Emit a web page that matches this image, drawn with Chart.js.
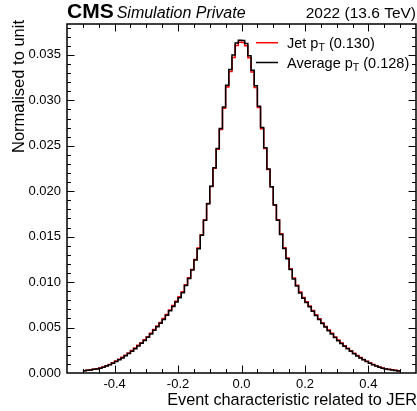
<!DOCTYPE html>
<html><head><meta charset="utf-8">
<script src="https://cdn.jsdelivr.net/npm/chart.js@4.4.1/dist/chart.umd.min.js"></script>
<style>html,body{margin:0;padding:0;background:#fff;overflow:hidden}#wrap{width:417px;height:411px;position:relative}</style>
</head><body><div id="wrap"><canvas id="c" width="417" height="411"></canvas></div>
<script>
// ---- data ----
const binLow = -0.5, binWidth = 0.01, nBins = 100;
const jetPt = [
0.00026,0.00031,0.00036,0.00042,0.00048,0.00056,0.00067,0.00081,0.00094,0.00112,
0.00131,0.00151,0.00172,0.00196,0.00220,0.00247,0.00275,0.00305,0.00334,0.00366,
0.00400,0.00438,0.00478,0.00517,0.00556,0.00600,0.00645,0.00693,0.00742,0.00790,
0.00838,0.00895,0.00970,0.01048,0.01140,0.01250,0.01374,0.01522,0.01684,0.01864,
0.02052,0.02252,0.02462,0.02678,0.02912,0.03146,0.03318,0.03472,0.03604,0.03640,
0.03636,0.03600,0.03468,0.03312,0.03142,0.02920,0.02688,0.02470,0.02240,0.02050,
0.01852,0.01686,0.01532,0.01378,0.01266,0.01148,0.01044,0.00966,0.00890,0.00832,
0.00784,0.00737,0.00689,0.00641,0.00597,0.00554,0.00513,0.00474,0.00436,0.00397,
0.00363,0.00331,0.00301,0.00272,0.00244,0.00218,0.00193,0.00170,0.00149,0.00130,
0.00112,0.00094,0.00079,0.00066,0.00056,0.00048,0.00041,0.00035,0.00030,0.00025];
const avgPt = [
0.00024,0.00029,0.00034,0.00040,0.00045,0.00053,0.00064,0.00077,0.00090,0.00108,
0.00127,0.00146,0.00166,0.00190,0.00214,0.00240,0.00268,0.00298,0.00326,0.00358,
0.00392,0.00430,0.00469,0.00508,0.00547,0.00590,0.00636,0.00684,0.00733,0.00780,
0.00828,0.00884,0.00962,0.01040,0.01133,0.01242,0.01368,0.01517,0.01680,0.01862,
0.02054,0.02258,0.02471,0.02690,0.02928,0.03165,0.03340,0.03498,0.03630,0.03662,
0.03658,0.03625,0.03492,0.03332,0.03160,0.02935,0.02700,0.02478,0.02245,0.02050,
0.01848,0.01680,0.01525,0.01370,0.01258,0.01140,0.01035,0.00958,0.00880,0.00822,
0.00775,0.00728,0.00680,0.00632,0.00588,0.00545,0.00505,0.00466,0.00428,0.00390,
0.00356,0.00324,0.00295,0.00266,0.00238,0.00212,0.00188,0.00165,0.00145,0.00126,
0.00108,0.00090,0.00076,0.00063,0.00053,0.00045,0.00039,0.00033,0.00028,0.00023];
const legendNames = ['Jet p', 'Average p'];
const legendSub = ['T', 'T'];
const legendRms = [' (0.130)', ' (0.128)'];
const xTickValues = [-0.4, -0.2, 0.0, 0.2, 0.4];
const xTickLabels = ['-0.4', '-0.2', '0.0', '0.2', '0.4'];
const yTickValues = [0, 0.005, 0.010, 0.015, 0.020, 0.025, 0.030, 0.035];
const yTickLabels = ['0.000', '0.005', '0.010', '0.015', '0.020', '0.025', '0.030', '0.035'];
const xTitle = 'Event characteristic related to JER';
const yTitle = 'Normalised to unit';

// ---- build ----
const edges = Array.from({length: nBins + 1}, (_, i) => +(binLow + i * binWidth).toFixed(4));
function toPoints(vals) {
  const pts = vals.map((v, i) => ({x: edges[i], y: v}));
  pts.push({x: edges[nBins], y: vals[nBins - 1]});
  return pts;
}
const FONT = '"Liberation Sans", Arial, sans-serif';

const decor = {
  id: 'decor',
  afterDraw(chart) {
    const {ctx, chartArea: a, scales: {x, y}} = chart;
    ctx.save();
    ctx.strokeStyle = '#000';
    ctx.lineWidth = 1;
    // inward ticks on all four sides
    for (let k = -10; k <= 10; k++) {
      const px = Math.round(x.getPixelForValue(k * 0.05)) + 0.5;
      const len = (k % 4 === 0) ? 7.5 : 4;
      ctx.beginPath();
      ctx.moveTo(px, a.bottom); ctx.lineTo(px, a.bottom - len);
      ctx.moveTo(px, a.top); ctx.lineTo(px, a.top + len);
      ctx.stroke();
    }
    for (let k = 1; k <= 38; k++) {
      const py = Math.round(y.getPixelForValue(k * 0.001)) + 0.5;
      const len = (k % 5 === 0) ? 7.5 : 4;
      ctx.beginPath();
      ctx.moveTo(a.left, py); ctx.lineTo(a.left + len, py);
      ctx.moveTo(a.right, py); ctx.lineTo(a.right - len, py);
      ctx.stroke();
    }
    // frame
    ctx.lineWidth = 1.5;
    ctx.strokeRect(a.left, a.top, a.right - a.left, a.bottom - a.top);

    // header
    ctx.fillStyle = '#000';
    ctx.textBaseline = 'alphabetic';
    ctx.textAlign = 'left';
    ctx.font = 'bold 21px ' + FONT;
    ctx.fillText('CMS', a.left, 18);
    const wc = ctx.measureText('CMS').width;
    ctx.font = 'italic 16px ' + FONT;
    ctx.fillText('Simulation Private', a.left + wc + 3, 18);
    ctx.textAlign = 'right';
    ctx.font = '15.5px ' + FONT;
    ctx.fillText('2022 (13.6 TeV)', a.right, 18);

    // axis titles
    ctx.font = '16.3px ' + FONT;
    ctx.textAlign = 'right';
    ctx.fillText(xTitle, a.right + 1, 404.5);
    ctx.font = '16.5px ' + FONT;
    ctx.save();
    ctx.translate(24, a.top - 4);
    ctx.rotate(-Math.PI / 2);
    ctx.textAlign = 'right';
    ctx.fillText(yTitle, 0, 0);
    ctx.restore();

    // legend
    const colors = ['#ff0000', '#000000'];
    const ys = [42.7, 62.5];
    for (let i = 0; i < 2; i++) {
      ctx.strokeStyle = colors[i];
      ctx.lineWidth = 1.5;
      ctx.beginPath();
      ctx.moveTo(256, ys[i]); ctx.lineTo(278, ys[i]);
      ctx.stroke();
      ctx.textAlign = 'left';
      let tx = 287;
      const base = ys[i] + 5;
      ctx.font = '14.5px ' + FONT;
      ctx.fillText(legendNames[i], tx, base);
      tx += ctx.measureText(legendNames[i]).width;
      ctx.font = '10.5px ' + FONT;
      ctx.fillText(legendSub[i], tx, base + 3);
      tx += ctx.measureText(legendSub[i]).width;
      ctx.font = '14.5px ' + FONT;
      ctx.fillText(legendRms[i], tx, base);
    }
    ctx.restore();
  }
};

new Chart(document.getElementById('c'), {
  type: 'line',
  data: {
    datasets: [
      {label: 'Average pT', data: toPoints(avgPt), borderColor: '#000000', borderWidth: 1.5,
       stepped: 'before', pointRadius: 0, fill: false, order: 0},
      {label: 'Jet pT', data: toPoints(jetPt), borderColor: '#ff0000', borderWidth: 1.5,
       stepped: 'before', pointRadius: 0, fill: false, order: 1}
    ]
  },
  options: {
    responsive: false,
    animation: false,
    devicePixelRatio: 1,
    layout: {padding: {left: 0, right: 1, top: 24, bottom: 0}},
    plugins: {legend: {display: false}, tooltip: {enabled: false}},
    scales: {
      x: {
        type: 'linear', min: -0.55, max: 0.55,
        afterBuildTicks: s => { s.ticks = xTickValues.map(v => ({value: v})); },
        afterFit: s => { s.height = 38; },
        ticks: {callback: (v, i) => xTickLabels[i], autoSkip: false, maxRotation: 0, minRotation: 0,
                padding: 4, color: '#000', font: {family: FONT, size: 13}},
        grid: {display: false, drawTicks: false},
        border: {display: false}
      },
      y: {
        type: 'linear', min: 0, max: 0.0384,
        afterBuildTicks: s => { s.ticks = yTickValues.map(v => ({value: v})); },
        afterFit: s => { s.width = 67; },
        ticks: {callback: (v, i) => yTickLabels[i], autoSkip: false, padding: 6, color: '#000',
                font: {family: FONT, size: 13}},
        grid: {display: false, drawTicks: false},
        border: {display: false}
      }
    }
  },
  plugins: [decor]
});
</script>
</body></html>
